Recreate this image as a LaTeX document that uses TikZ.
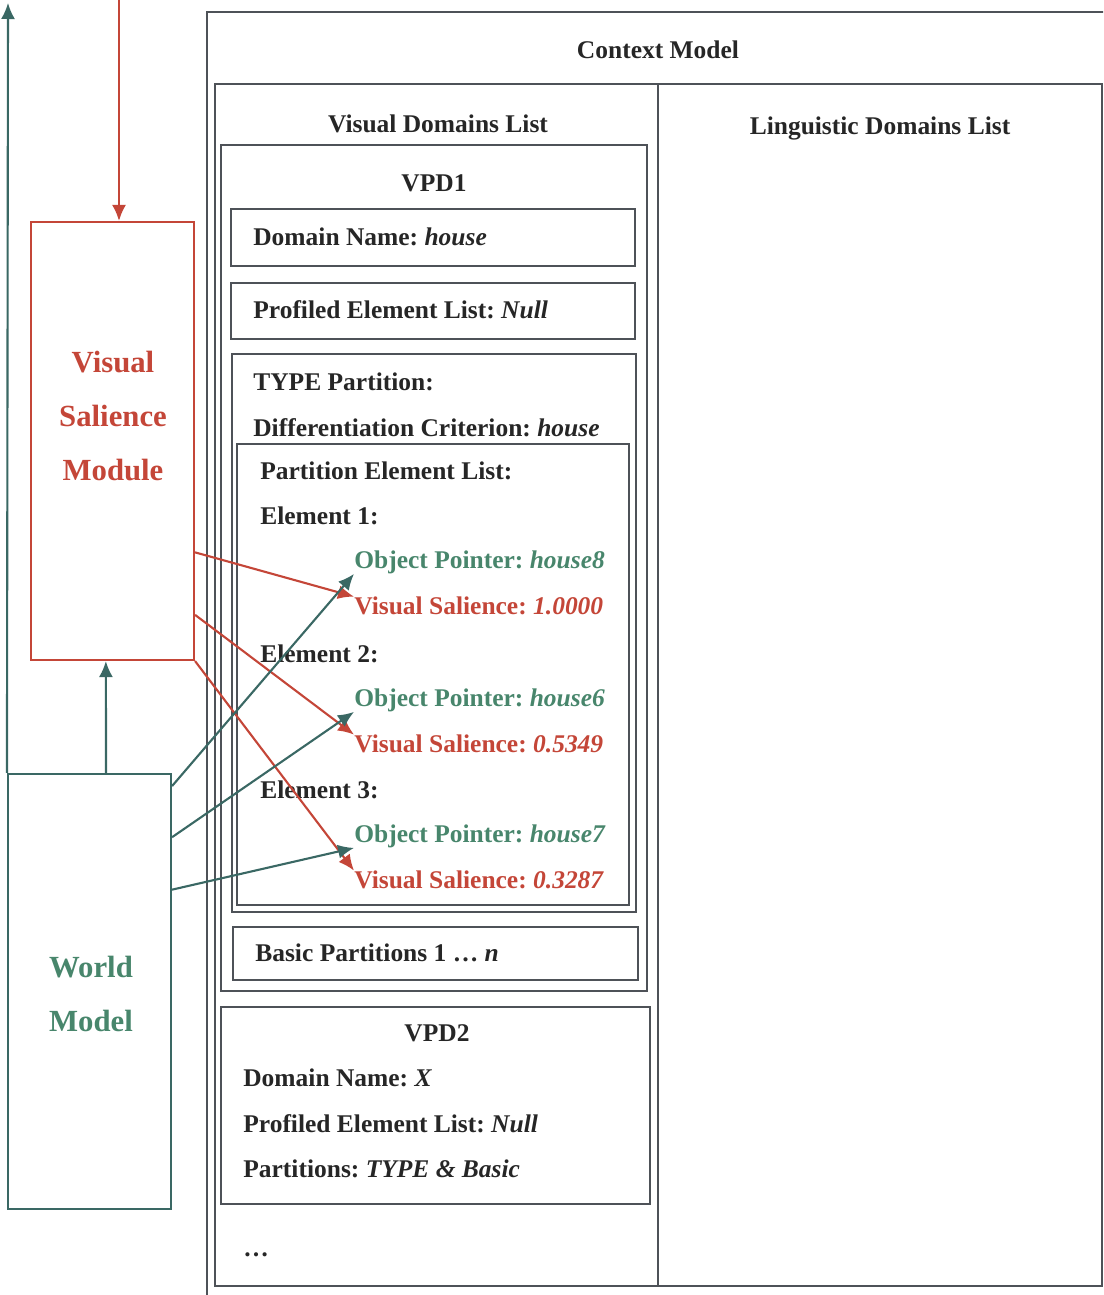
\documentclass[tikz,border=0pt]{standalone}
\usepackage{fontspec}
\setmainfont{Liberation Serif}
\usetikzlibrary{arrows.meta,positioning,fit,calc}
\definecolor{boxgray}{RGB}{78,82,88}
\definecolor{vsred}{RGB}{196,70,56}
\definecolor{wmteal}{RGB}{58,104,100}
\definecolor{optext}{RGB}{72,134,108}
\frenchspacing

\begin{document}
\begin{tikzpicture}[
  x=0.02cm, y=-0.02cm,
  box/.style={draw=boxgray, line width=1.2pt, inner sep=0pt},
  vsbox/.style={draw=vsred, line width=1.2pt, inner sep=0pt},
  wmbox/.style={draw=wmteal, line width=1.2pt, inner sep=0pt},
  title/.style={inner sep=0pt, text=black!85,
    font=\fontsize{14.5}{17}\selectfont\bfseries},
  txt/.style={title, anchor=west},
  optr/.style={txt, text=optext},
  vsal/.style={txt, text=vsred},
  modtext/.style={align=center, inner sep=0pt,
    font=\fontsize{17.5}{30.6}\selectfont\bfseries},
  redarrow/.style={-{Latex[length=3.2mm, width=2.8mm]}, draw=vsred, line width=1.2pt},
  tealarrow/.style={-{Latex[length=3.2mm, width=2.8mm]}, draw=wmteal, line width=1.2pt}
]
\useasboundingbox (0,0) rectangle (1103,1295);
\clip (0,0) rectangle (1103,1295);

% context model
\node[box, fit={(207,12) (1130,1320)}] (ctx) {};
\node[title] (ctxlbl) at (658,50) {Context Model};
\node[box, fit={(215,84) (658,1286)}] (vdl) {};
\node[box, fit={(658,84) (1102,1286)}] (ldl) {};
\node[title] (vdllbl) at (438,124) {Visual Domains List};
\node[title] (ldllbl) at (880,128) {Linguistic Domains List};

% first domain
\node[box, fit={(221,145) (647,991)}] (vpd1) {};
\node[title] (vpd1lbl) at (434,183) {VPD1};
\node[box, fit={(231,209) (635,266)}] (dname) {};
\node[txt] (dnamelbl) at (253,237) {Domain Name: \textit{house}};
\node[box, fit={(231,283) (635,339)}] (prof) {};
\node[txt] (proflbl) at (253,310) {Profiled Element List: \textit{Null}};
\node[box, fit={(232,354) (636,912)}] (typep) {};
\node[txt] (typelbl) at (253,382) {TYPE Partition:};
\node[txt] (critlbl) at (253,428) {Differentiation Criterion: \textit{house}};
\node[box, fit={(237,444) (629,905)}] (elist) {};
\node[txt] (elistlbl) at (260,471) {Partition Element List:};
\foreach \i/\y/\obj/\sal in {1/516/house8/1.0000, 2/654/house6/0.5349, 3/790/house7/0.3287} {
  \node[txt] (el\i) at (260,\y) {Element \i:};
  \node[optr] (op\i) at (354,\y+46) {Object Pointer: \textit{\obj}};
  \node[vsal] (sal\i) at (354,\y+90) {Visual Salience: \textit{\sal}};
}
\node[box, fit={(233,927) (638,980)}] (basic) {};
\node[txt] (basiclbl) at (255,953) {Basic Partitions 1 \dots{} \textit{n}};

% second domain
\node[box, fit={(221,1007) (650,1204)}] (vpd2) {};
\node[title] (vpd2lbl) at (437,1033) {VPD2};
\node[txt] (dname2) at (243,1078) {Domain Name: \textit{X}};
\node[txt] (prof2) at (243,1124) {Profiled Element List: \textit{Null}};
\node[txt] (part2) at (243,1169) {Partitions: \textit{TYPE \& Basic}};
\node[txt] (more) at (243,1255) {\dots};

% modules
\node[vsbox, fit={(31,222) (194,660)}] (vsm) {};
\node[modtext, text=vsred] (vsmlbl) at (113,416) {Visual\\Salience\\Module};
\node[wmbox, fit={(8,774) (171,1209)}] (wm) {};
\node[modtext, text=optext] (wmlbl) at (91,994) {World\\Model};

\coordinate (vsin) at (119,-10);
\coordinate (wmout) at (8,3);

\draw[redarrow] (vsin) -- (vsin |- vsm.north);
\draw[tealarrow] (wm.north west) -- (wmout);
\draw[tealarrow] ($(wm.north west)!0.6!(wm.north east)$) -- ($(vsm.south west)!0.46!(vsm.south east)$);
\draw[redarrow] ($(vsm.south east)!0.247!(vsm.north east)$) -- (sal1.north west);
\draw[redarrow] ($(vsm.south east)!0.105!(vsm.north east)$) -- (sal2.north west);
\draw[redarrow] (vsm.south east) -- (sal3.north west);
\draw[tealarrow] ($(wm.north east)!0.03!(wm.south east)$) -- (op1.south west);
\draw[tealarrow] ($(wm.north east)!0.147!(wm.south east)$) -- (op2.south west);
\draw[tealarrow] ($(wm.north east)!0.267!(wm.south east)$) -- (op3.south west);
\end{tikzpicture}
\end{document}
